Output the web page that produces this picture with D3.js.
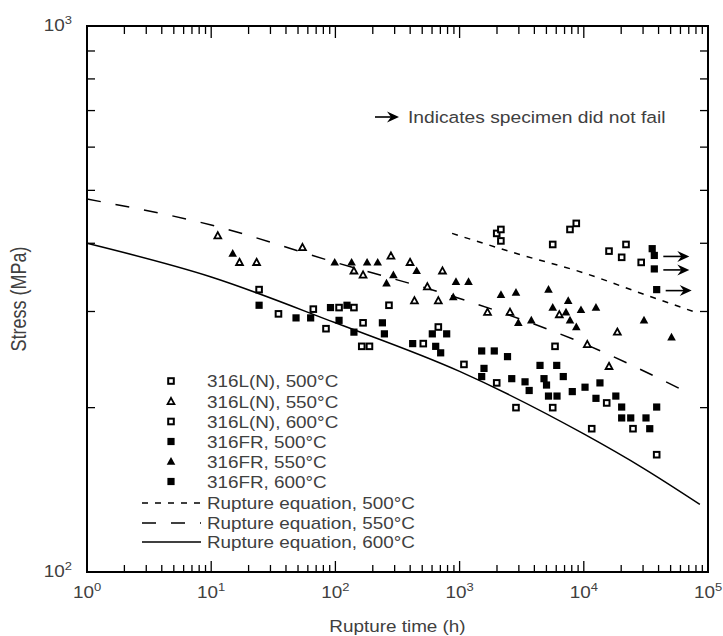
<!DOCTYPE html>
<html>
<head>
<meta charset="utf-8">
<script src="https://cdn.jsdelivr.net/npm/d3@7"></script>
<style>
  html, body { margin: 0; padding: 0; background: #fff; }
  svg { display: block; }
  text { font-family: "Liberation Sans", Arial, Helvetica, sans-serif; fill: #404040; }
</style>
</head>
<body>
<svg id="chart" width="723" height="636"></svg>
<script>
// ---------------- DATA ----------------
// [rupture time (h), stress (MPa)]
const ln500 = [[1990,417],[2150,424],[2150,404],[5620,398],[7740,424],[8700,435],[15960,387],[21870,398],[20180,377],[28980,369]];
const ln550 = [[11.3,413],[16.9,369],[23.2,369],[54.3,393],[141,356],[167,350],[280,379],[399,369],[728,356],[550,333],[433,314],[674,314],[1678,299],[2545,299],[6350,296],[18620,275],[10670,261],[15960,238]];
const ln600 = [[24.3,329],[34.8,297],[66.4,303],[84,279],[107,305],[141,305],[167,286],[270,308],[163,259],[188,259],[674,281],[510,262],[1084,240],[1990,222],[2844,200],[5620,200],[15290,204],[11580,183],[24900,183],[38620,164],[5866,259]];
const fr500 = [[35540,391],[36960,380],[36960,359],[38620,329]];
const fr500Runout = [false,true,true,true];
const fr550 = [[14.9,383],[98.7,369],[135,369],[180,369],[219,369],[293,350],[258,338],[451,356],[935,340],[1180,340],[889,319],[2153,322],[2844,325],[5197,329],[7490,314],[5620,305],[7189,299],[9490,302],[12530,305],[2970,286],[3778,289],[7742,289],[8703,281],[30520,289],[50850,269]];
const fr600 = [[24.3,308],[48.2,292],[63.2,292],[91.3,305],[124,308],[107,289],[141,275],[239,286],[248,273],[603,273],[787,273],[419,262],[642,259],[704,252],[1506,254],[1902,254],[2431,248],[1572,236],[1506,228],[2629,226],[3364,223],[3632,215],[4440,239],[6053,239],[6835,228],[4782,226],[5011,220],[5197,210],[6085,210],[8076,214],[10230,218],[13490,222],[12530,208],[18110,210],[20180,200.5],[20180,191.5],[23870,191.5],[31680,191.5],[38620,200.5],[33960,183]];

// Rupture equation curves
const eq500 = [[870,417],[3000,382],[10000,353],[30000,323],[76000,300]];
const eq550 = [[1,482],[10,432],[100,369],[1000,317],[10000,262],[69000,213]];
const eq600 = [[1,400],[10,347],[100,286],[1000,233],[10000,179],[30000,155],[86000,133]];

const xMajor = [1, 10, 100, 1000, 10000, 100000];
const xExponents = ["0","1","2","3","4","5"];
const yMajor = [100, 1000];
const yExponents = ["2","3"];

const markerLabels = ["316L(N), 500°C","316L(N), 550°C","316L(N), 600°C","316FR, 500°C","316FR, 550°C","316FR, 600°C"];
const lineLabels = ["Rupture equation, 500°C","Rupture equation, 550°C","Rupture equation, 600°C"];
const noteText = "Indicates specimen did not fail";
const xTitle = "Rupture time (h)";
const yTitle = "Stress (MPa)";

// ---------------- CHART ----------------
const svg = d3.select("#chart");
const L = 87, R = 708, T = 26, B = 572;
const x = d3.scaleLog().domain([1, 1e5]).range([L, R]);
const y = d3.scaleLog().domain([100, 1000]).range([B, T]);
const SX = 1.18; // horizontal text stretch

function txt(px, py, str, opts = {}) {
  const size = opts.size || 16, anchor = opts.anchor || "start";
  const g = svg.append("g").attr("transform", `translate(${px},${py}) scale(${SX},1)` + (opts.rotate ? ` rotate(${opts.rotate})` : ""));
  return g.append("text").attr("text-anchor", anchor).attr("font-size", size).text(str);
}
function powLabel(px, py, exp, anchor) {
  const g = svg.append("g").attr("transform", `translate(${px},${py}) scale(${SX},1)`);
  const t = g.append("text").attr("text-anchor", anchor).attr("font-size", 16);
  t.append("tspan").text("10");
  t.append("tspan").attr("font-size", 11).attr("dy", -7).text(exp);
}

// minor tick values
const xMinor = [], yMinor = [];
for (let k = 0; k < 5; k++) for (let m = 2; m <= 9; m++) xMinor.push(m * Math.pow(10, k));
for (let m = 2; m <= 9; m++) yMinor.push(m * 100);

// ticks (inward on all four sides)
const tickG = svg.append("g").attr("stroke", "#000").attr("stroke-width", 1.3);
xMinor.forEach(v => {
  tickG.append("line").attr("x1", x(v)).attr("x2", x(v)).attr("y1", B).attr("y2", B - 7);
  tickG.append("line").attr("x1", x(v)).attr("x2", x(v)).attr("y1", T).attr("y2", T + 8);
});
xMajor.slice(1, -1).forEach(v => {
  tickG.append("line").attr("x1", x(v)).attr("x2", x(v)).attr("y1", B).attr("y2", B - 11);
  tickG.append("line").attr("x1", x(v)).attr("x2", x(v)).attr("y1", T).attr("y2", T + 12);
});
yMinor.forEach(v => {
  tickG.append("line").attr("x1", L).attr("x2", L + 8).attr("y1", y(v)).attr("y2", y(v));
  tickG.append("line").attr("x1", R).attr("x2", R - 8).attr("y1", y(v)).attr("y2", y(v));
});

// frame
svg.append("rect").attr("x", L).attr("y", T).attr("width", R - L).attr("height", B - T)
  .attr("fill", "none").attr("stroke", "#000").attr("stroke-width", 2);

// tick labels
xMajor.forEach((v, i) => powLabel(x(v), 598, xExponents[i], "middle"));
yMajor.forEach((v, i) => powLabel(72, y(v) + 5, yExponents[i], "end"));

// axis titles
txt((L + R) / 2, 632, xTitle, { anchor: "middle" });
txt(26, (T + B) / 2, yTitle, { anchor: "middle", rotate: -90, size: 18 });

// rupture equation lines
const line = d3.line().x(d => x(d[0])).y(d => y(d[1])).curve(d3.curveMonotoneX);
const lineStyles = [
  { data: eq500, dash: "6,7" },
  { data: eq550, dash: "14,15" },
  { data: eq600, dash: null }
];
lineStyles.forEach(s => {
  svg.append("path").datum(s.data).attr("d", line).attr("fill", "none")
    .attr("stroke", "#000").attr("stroke-width", 1.5)
    .attr("stroke-dasharray", s.dash);
});

// markers
const sqOpen = sel => sel.append("rect").attr("x", -2.8).attr("y", -2.8).attr("width", 5.6).attr("height", 5.6)
  .attr("fill", "#fff").attr("stroke", "#000").attr("stroke-width", 2);
const sqFill = sel => sel.append("rect").attr("x", -3.6).attr("y", -3.6).attr("width", 7.2).attr("height", 7.2)
  .attr("fill", "#000");
const triOpen = sel => sel.append("path").attr("d", "M0,-3.6L3.4,2.6L-3.4,2.6Z")
  .attr("fill", "#fff").attr("stroke", "#000").attr("stroke-width", 1.8);
const triFill = sel => sel.append("path").attr("d", "M0,-4.5L4.3,3.2L-4.3,3.2Z").attr("fill", "#000");

const series = [
  { data: ln500, draw: sqOpen },
  { data: ln550, draw: triOpen },
  { data: ln600, draw: sqOpen },
  { data: fr500, draw: sqFill },
  { data: fr550, draw: triFill },
  { data: fr600, draw: sqFill }
];
series.forEach(s => {
  const g = svg.append("g");
  s.data.forEach(d => {
    const m = g.append("g").attr("transform", `translate(${x(d[0])},${y(d[1])})`);
    s.draw(m);
  });
});

// run-out arrows
function arrow(x0, x1, yy) {
  svg.append("line").attr("x1", x0).attr("x2", x1 - 5).attr("y1", yy).attr("y2", yy)
    .attr("stroke", "#000").attr("stroke-width", 1.6);
  svg.append("path").attr("d", `M${x1},${yy}L${x1 - 12},${yy - 5.5}L${x1 - 8},${yy}L${x1 - 12},${yy + 5.5}Z`)
    .attr("fill", "#000");
}
fr500.forEach((d, i) => {
  if (fr500Runout[i]) arrow(x(d[0]) + 9, x(d[0]) + 35, y(d[1]) + 1);
});

// note
arrow(375, 399, 117);
txt(408, 123, noteText, { size: 16.3 });

// legend
const legX = 171, legTextX = 207;
const legRows = [381, 401.5, 421.5, 441.5, 461.5, 481.5];
series.forEach((s, i) => {
  const m = svg.append("g").attr("transform", `translate(${legX},${legRows[i]})`);
  s.draw(m);
  txt(legTextX, legRows[i] + 6, markerLabels[i]);
});
const lineRows = [503, 523, 542];
lineStyles.forEach((s, i) => {
  svg.append("line").attr("x1", 142).attr("x2", 201).attr("y1", lineRows[i]).attr("y2", lineRows[i])
    .attr("stroke", "#000").attr("stroke-width", 1.5).attr("stroke-dasharray", s.dash);
  txt(legTextX, lineRows[i] + 6, lineLabels[i]);
});
</script>
</body>
</html>
